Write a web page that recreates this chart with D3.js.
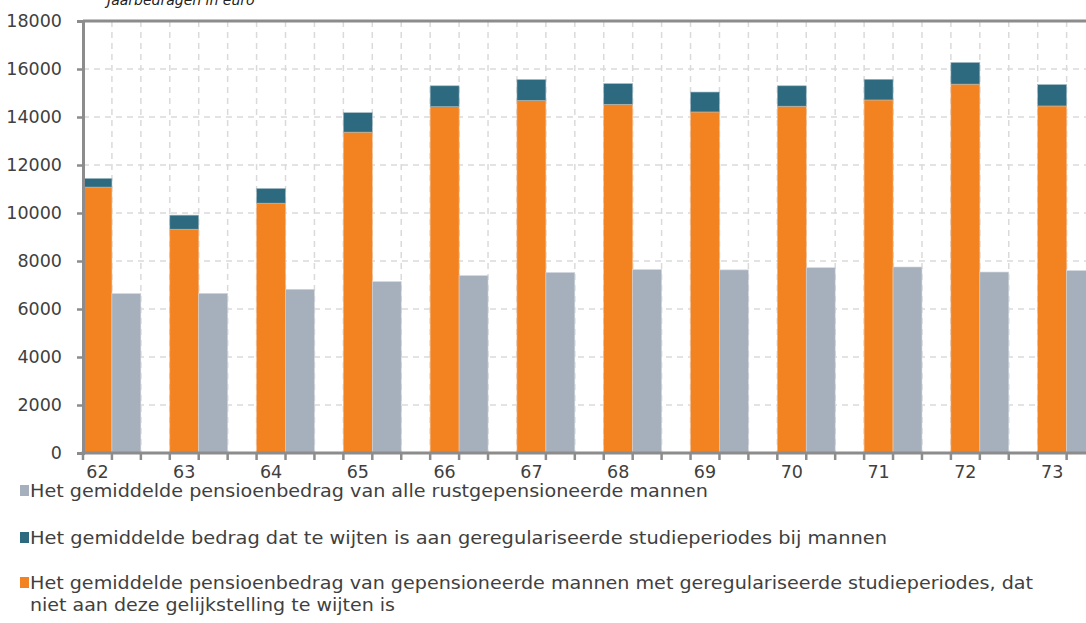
<!DOCTYPE html>
<html><head><meta charset="utf-8">
<script src="https://cdn.jsdelivr.net/npm/d3@7"></script>
<style>
html,body{margin:0;padding:0;background:#fff;overflow:hidden}
svg{display:block}
</style></head><body>
<svg id="c" width="1086" height="623"></svg>
<script>
const ages = ["62","63","64","65","66","67","68","69","70","71","72","73"];
const allMen = [6640,6650,6820,7140,7390,7520,7640,7630,7720,7750,7540,7600];
const notStudy = [11080,9325,10410,13370,14430,14690,14530,14210,14450,14710,15370,14460];
const studyPart = [360,585,610,810,870,870,860,830,850,860,900,890];
const yTicks = [0,2000,4000,6000,8000,10000,12000,14000,16000,18000];
const title = "Jaarbedragen in euro";
const legendItems = [
  {lines:["Het gemiddelde pensioenbedrag van alle rustgepensioneerde mannen"], color:"#A6B0BC"},
  {lines:["Het gemiddelde bedrag dat te wijten is aan geregulariseerde studieperiodes bij mannen"], color:"#2E6A7F"},
  {lines:["Het gemiddelde pensioenbedrag van gepensioneerde mannen met geregulariseerde studieperiodes, dat","niet aan deze gelijkstelling te wijten is"], color:"#F38321"}
];

const svg = d3.select("#c");
const plotLeft = 83, plotTop = 21, plotBottom = 453;
const slot = 28.93;
const x0 = d3.scaleBand().domain(ages).range([plotLeft, plotLeft + ages.length*3*slot]).padding(0);
const y = d3.scaleLinear().domain([0,18000]).range([plotBottom, plotTop]);
const font = "'DejaVu Sans', Verdana, sans-serif";
const gridCol = "#dadada", axisCol = "#8c8c8c", textCol = "#404040";

// vertical dashed gridlines at every slot boundary
const slotEdges = d3.range(1, ages.length*3+1).map(i => plotLeft + i*slot);
svg.append("g").selectAll("line").data(slotEdges).join("line")
  .attr("x1", d=>d).attr("x2", d=>d).attr("y1", plotTop).attr("y2", plotBottom)
  .attr("stroke", gridCol).attr("stroke-width",1.5).attr("stroke-dasharray","6,5");
// horizontal gridlines
svg.append("g").selectAll("line").data(yTicks.filter(v=>v>0 && v<18000)).join("line")
  .attr("x1", plotLeft).attr("x2", 1086).attr("y1", d=>y(d)).attr("y2", d=>y(d))
  .attr("stroke", gridCol).attr("stroke-width",1.5).attr("stroke-dasharray","6,5");

// bars
const g = svg.append("g");
ages.forEach((a,i)=>{
  const gx = x0(a);
  g.append("rect").attr("x", gx).attr("width", slot).attr("y", y(notStudy[i])).attr("height", y(0)-y(notStudy[i]))
    .attr("fill","#F38321").attr("stroke","#f7b98a").attr("stroke-width",0.6);
  g.append("rect").attr("x", gx).attr("width", slot).attr("y", y(notStudy[i]+studyPart[i])).attr("height", y(notStudy[i])-y(notStudy[i]+studyPart[i]))
    .attr("fill","#2E6A7F").attr("stroke","#9fb8c2").attr("stroke-width",0.6);
  g.append("rect").attr("x", gx+slot).attr("width", slot).attr("y", y(allMen[i])).attr("height", y(0)-y(allMen[i]))
    .attr("fill","#A6B0BC").attr("stroke","#d0d6dc").attr("stroke-width",0.6);
});

// top border line
svg.append("line").attr("x1", plotLeft).attr("x2",1086).attr("y1", y(18000)).attr("y2", y(18000))
  .attr("stroke", axisCol).attr("stroke-width",3);

// y axis
const yAxis = svg.append("g").attr("transform",`translate(${plotLeft},0)`)
  .call(d3.axisLeft(y).tickValues(yTicks).tickSize(6).tickPadding(15).tickFormat(d3.format("d")));
yAxis.select(".domain").attr("stroke", axisCol).attr("stroke-width",3);
yAxis.selectAll(".tick line").attr("stroke", axisCol).attr("stroke-width",2.5);
yAxis.selectAll("text").attr("font-family", font).attr("font-size", 17.5).attr("fill", textCol);

// x axis
svg.append("line").attr("x1", plotLeft-1.5).attr("x2",1086).attr("y1", plotBottom).attr("y2", plotBottom)
  .attr("stroke", axisCol).attr("stroke-width",3);
svg.append("g").selectAll("line").data(slotEdges.concat([plotLeft])).join("line")
  .attr("x1", d=>d).attr("x2", d=>d).attr("y1", plotBottom).attr("y2", plotBottom+7)
  .attr("stroke", axisCol).attr("stroke-width",2.5);
svg.append("g").selectAll("text").data(ages).join("text")
  .attr("x", d=>x0(d)+slot/2).attr("y", 478).attr("text-anchor","middle")
  .attr("font-family", font).attr("font-size", 17.5).attr("fill", textCol).text(d=>d);

// title
svg.append("text").attr("x",107).attr("y",5).attr("font-family", font).attr("font-style","italic")
  .attr("font-size",14).attr("fill","#222").text(title);

// legend
const legY = [491, 538, 583];
const legW = [678, 857, 1003];
legendItems.forEach((it,i)=>{
  svg.append("rect").attr("x",20).attr("y",legY[i]-6).attr("width",9).attr("height",11).attr("fill",it.color);
  it.lines.forEach((ln,j)=>{
    const t = svg.append("text").attr("x",30).attr("y",legY[i]+6+j*22).attr("font-family", font)
      .attr("font-size",17.5).attr("fill",textCol).text(ln);
    if (j===0) t.attr("textLength", legW[i]).attr("lengthAdjust","spacingAndGlyphs");
    else t.attr("textLength", 365).attr("lengthAdjust","spacingAndGlyphs");
  });
});
</script>
</body></html>
